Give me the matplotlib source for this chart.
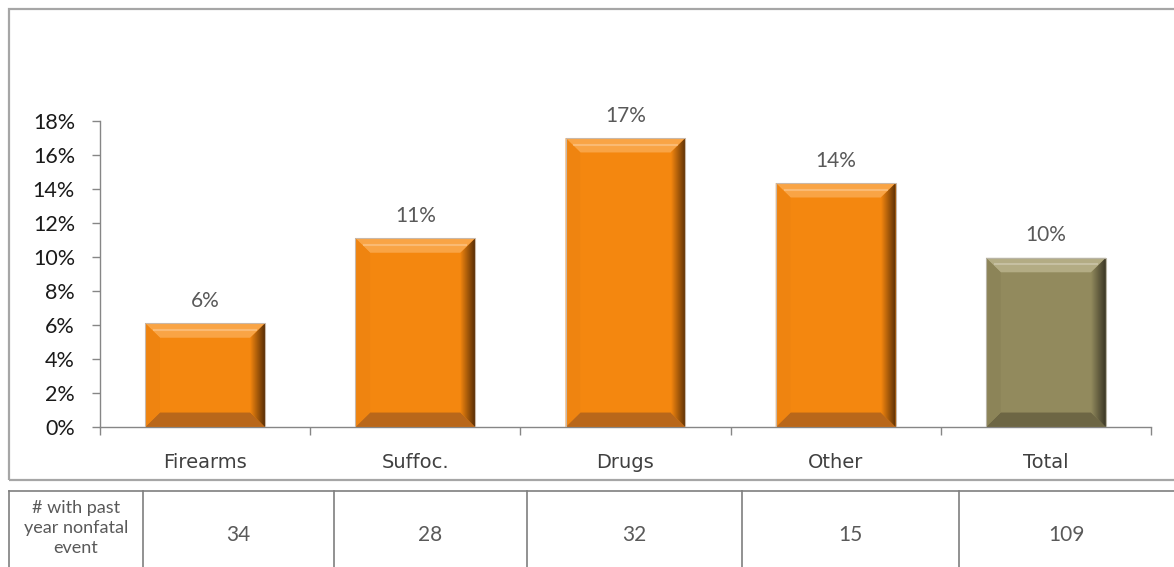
import matplotlib
matplotlib.use('Agg')
import matplotlib.pyplot as plt
import numpy as np
from matplotlib.patches import Polygon, Rectangle
from matplotlib.colors import LinearSegmentedColormap
from matplotlib.lines import Line2D

# data
categories = ['Firearms', 'Suffoc.', 'Drugs', 'Other', 'Total']
pct_values = [6.1, 11.1, 17.0, 14.35, 9.95]
pct_labels = ['6%', '11%', '17%', '14%', '10%']
row_label = '# with past\nyear nonfatal\nevent'
counts = ['34', '28', '32', '15', '109']
y_ticks = [0, 2, 4, 6, 8, 10, 12, 14, 16, 18]

W, H = 1174, 567
fig = plt.figure(figsize=(W / 100, H / 100), dpi=100)
fig.patch.set_facecolor('white')

ax = fig.add_axes([100 / W, 1 - 427 / H, (1151 - 100) / W, (427 - 121) / H])

orange = {'main': '#F4870F', 'top': '#F9A445', 'left': '#EF8410',
          'bottom': '#B9671A', 'dark': '#5A2E05', 'edge': '#C9B8A8'}
olive = {'main': '#928A5D', 'top': '#B3AC84', 'left': '#8C8458',
         'bottom': '#6D6644', 'dark': '#3A3625', 'edge': '#B8B4A6'}

bar_w = 0.57
bx = 0.07   # bevel width in category units
by = 0.85   # bevel height in percent units


def bevel_bar(ax, x, h, c):
    x0, x1 = x - bar_w / 2, x + bar_w / 2
    ax.add_patch(Rectangle((x0, 0), bar_w, h, facecolor=c['main'],
                           edgecolor='none', zorder=2))
    top = Polygon([(x0, h), (x1, h), (x1 - bx, h - by), (x0 + bx, h - by)],
                  closed=True, facecolor=c['top'], edgecolor='none', zorder=3)
    bot = Polygon([(x0, 0), (x1, 0), (x1 - bx, by), (x0 + bx, by)],
                  closed=True, facecolor=c['bottom'], edgecolor='none', zorder=3)
    left = Polygon([(x0, 0), (x0, h), (x0 + bx, h - by), (x0 + bx, by)],
                   closed=True, facecolor=c['left'], edgecolor='none', zorder=3)
    right = Polygon([(x1, 0), (x1, h), (x1 - bx, h - by), (x1 - bx, by)],
                    closed=True, facecolor='none', edgecolor='none', zorder=3)
    for p in (top, bot, left, right):
        ax.add_patch(p)
    cmap = LinearSegmentedColormap.from_list('g', [c['main'], c['dark']])
    grad = np.linspace(0, 1, 64).reshape(1, -1)
    im = ax.imshow(grad, cmap=cmap, extent=[x1 - bx, x1, 0, h],
                   aspect='auto', zorder=3, interpolation='bilinear')
    im.set_clip_path(right)
    # thin highlight line inside top bevel
    ax.plot([x0 + bx * 0.6, x1 - bx * 0.6], [h - by * 0.45, h - by * 0.45],
            color='#FFFFFF', alpha=0.25, lw=1.5, zorder=4)
    ax.add_patch(Rectangle((x0, 0), bar_w, h, facecolor='none',
                           edgecolor=c['edge'], lw=0.8, zorder=5))


x = np.arange(len(categories))
for i, v in enumerate(pct_values):
    bevel_bar(ax, x[i], v, olive if categories[i] == 'Total' else orange)
    ax.annotate(pct_labels[i], (x[i], v), xytext=(0, 9), textcoords='offset points',
                ha='center', va='bottom', fontsize=15, color='#595959', family='Lato')

ax.set_xlim(-0.5, len(categories) - 0.5)
ax.set_ylim(0, 18)
ax.set_yticks(y_ticks)
ax.set_yticklabels([f'{t}%' for t in y_ticks], fontsize=15.5, color='#1A1A1A', family='Lato')
ax.set_xticks(np.arange(len(categories) + 1) - 0.5)
ax.set_xticklabels([])
ax.set_xticks(x, minor=True)
ax.set_xticklabels(categories, minor=True, fontsize=14, color='#404040', family='DejaVu Sans')
ax.tick_params(axis='x', which='minor', length=0, pad=19)
ax.tick_params(axis='x', which='major', length=6, color='#868686', width=1)
ax.tick_params(axis='y', length=6, color='#868686', width=1, pad=12)
for s in ('top', 'right'):
    ax.spines[s].set_visible(False)
for s in ('left', 'bottom'):
    ax.spines[s].set_color('#868686')
    ax.spines[s].set_linewidth(1)

# outer chart border
fig.add_artist(Rectangle((9 / W, 1 - 480 / H), 1.2, (480 - 9) / H,
                         transform=fig.transFigure, facecolor='none',
                         edgecolor='#A6A6A6', lw=1.6, clip_on=False))

# table below chart
col_edges = [9, 143, 334, 527, 742, 959, 1174]
tbl_top = 491
line_c = '#7F7F7F'
fig.add_artist(Line2D([col_edges[0] / W, 1], [1 - tbl_top / H] * 2,
                      transform=fig.transFigure, color=line_c, lw=1.2))
for e in col_edges[:-1]:
    fig.add_artist(Line2D([e / W, e / W], [1 - tbl_top / H, 0],
                          transform=fig.transFigure, color=line_c, lw=1.2))
mid_y = 1 - 528 / H
fig.text((col_edges[0] + col_edges[1]) / 2 / W, mid_y, row_label, ha='center', va='center',
         fontsize=13, color='#595959', family='Lato', linespacing=1.3)
for i, n in enumerate(counts):
    fig.text((col_edges[i + 1] + col_edges[i + 2]) / 2 / W, mid_y - 0.012, n, ha='center',
             va='center', fontsize=15, color='#595959', family='Lato')

fig.savefig('out.png', dpi=100)
